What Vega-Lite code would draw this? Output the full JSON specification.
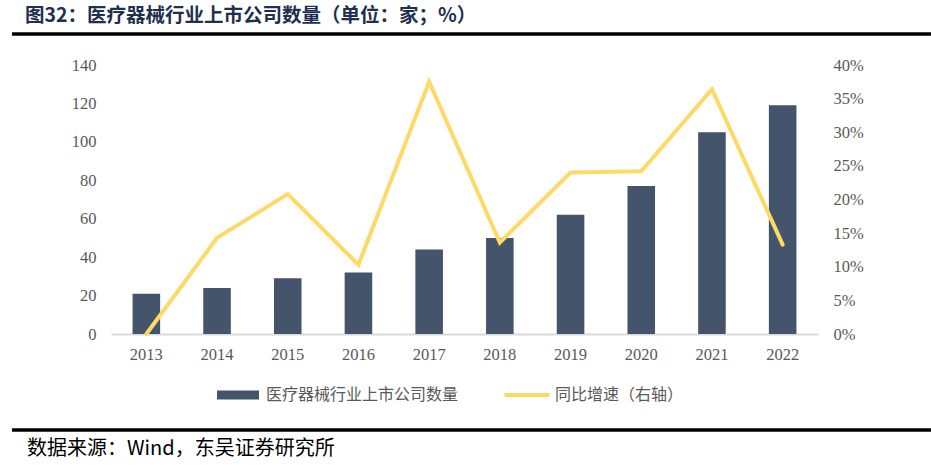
{
  "$schema": "https://vega.github.io/schema/vega-lite/v6.json",
  "width": 707,
  "height": 269,
  "autosize": {"type": "none"},
  "padding": {"left": 111, "top": 65, "right": 113, "bottom": 131},
  "background": "white",
  "config": {"view": {"stroke": null}, "font": "Liberation Serif"},
  "data": {
    "values": [
      {"year": "2013", "count": 21, "growth": 0.0},
      {"year": "2014", "count": 24, "growth": 0.143},
      {"year": "2015", "count": 29, "growth": 0.208},
      {"year": "2016", "count": 32, "growth": 0.103},
      {"year": "2017", "count": 44, "growth": 0.375},
      {"year": "2018", "count": 50, "growth": 0.136},
      {"year": "2019", "count": 62, "growth": 0.24},
      {"year": "2020", "count": 77, "growth": 0.242},
      {"year": "2021", "count": 105, "growth": 0.364},
      {"year": "2022", "count": 119, "growth": 0.133}
    ]
  },
  "layer": [
    {
      "layer": [
        {
          "mark": {"type": "bar"},
          "encoding": {
            "x": {
              "field": "year",
              "type": "ordinal",
              "scale": {"paddingInner": 0.61, "paddingOuter": 0.305},
              "axis": {
                "title": null,
                "labelAngle": 0,
                "ticks": false,
                "grid": false,
                "domain": true,
                "domainColor": "#D9D9D9",
                "domainWidth": 2,
                "labelFont": "Liberation Serif",
                "labelFontSize": 16.5,
                "labelColor": "#595959",
                "labelPadding": 12
              }
            },
            "y": {
              "field": "count",
              "type": "quantitative",
              "scale": {"domain": [0, 140], "nice": false},
              "axis": {
                "title": null,
                "values": [0, 20, 40, 60, 80, 100, 120, 140],
                "domain": false,
                "ticks": false,
                "grid": false,
                "labelFont": "Liberation Serif",
                "labelFontSize": 16.5,
                "labelColor": "#595959",
                "labelPadding": 15
              }
            },
            "color": {
              "datum": "医疗器械行业上市公司数量",
              "type": "nominal",
              "scale": {
                "domain": ["医疗器械行业上市公司数量", "同比增速（右轴）"],
                "range": ["#44546A", "#FFD966"]
              },
              "legend": {
                "orient": "none",
                "legendX": 106,
                "legendY": 309,
                "direction": "horizontal",
                "title": null,
                "padding": 0,
                "labelFont": "Noto Sans CJK SC",
                "labelFontSize": 16,
                "labelColor": "#595959",
                "labelOffset": 7,
                "labelLimit": 0,
                "columnPadding": 45,
                "symbolSize": 1764,
                "encode": {
                  "symbols": {
                    "update": {
                      "shape": [
                        {"test": "datum.value === '同比增速（右轴）'", "value": "M-1.07,-0.095H1.07V0.095H-1.07Z"},
                        {"value": "M-1,-0.214H1V0.214H-1Z"}
                      ],
                      "fill": {"scale": "color", "field": "value"},
                      "stroke": {"value": null},
                      "strokeWidth": {"value": 0},
                      "opacity": {"value": 1},
                      "fillOpacity": {"value": 1}
                    }
                  }
                }
              }
            }
          }
        },
        {
          "mark": {"type": "line", "strokeWidth": 4, "strokeCap": "round"},
          "encoding": {
            "x": {"field": "year", "type": "ordinal"},
            "y": {
              "field": "growth",
              "type": "quantitative",
              "scale": {"domain": [0, 0.4], "nice": false},
              "axis": {
                "orient": "right",
                "title": null,
                "format": ".0%",
                "values": [0, 0.05, 0.1, 0.15, 0.2, 0.25, 0.3, 0.35, 0.4],
                "domain": false,
                "ticks": false,
                "grid": false,
                "labelFont": "Liberation Serif",
                "labelFontSize": 16.5,
                "labelColor": "#595959",
                "labelPadding": 15
              }
            },
            "color": {"datum": "同比增速（右轴）", "type": "nominal"}
          }
        }
      ],
      "resolve": {"scale": {"y": "independent"}}
    },
    {
      "data": {"values": [{"header": "图32：医疗器械行业上市公司数量（单位：家；%）", "footer": "数据来源：Wind，东吴证券研究所"}]},
      "layer": [
        {
          "mark": {"type": "rule", "color": "black", "strokeWidth": 3.5},
          "encoding": {
            "x": {"datum": -0.14, "type": "quantitative", "scale": {"domain": [0, 1], "nice": false, "zero": false}, "axis": null},
            "x2": {"datum": 1.1598},
            "y": {"datum": 1.1152, "type": "quantitative", "scale": {"domain": [0, 1], "nice": false, "zero": false}, "axis": null}
          }
        },
        {
          "mark": {"type": "rule", "color": "black", "strokeWidth": 3.5},
          "encoding": {
            "x": {"datum": -0.14, "type": "quantitative"},
            "x2": {"datum": 1.1598},
            "y": {"datum": -0.3569, "type": "quantitative"}
          }
        },
        {
          "mark": {"type": "text", "align": "left", "baseline": "middle", "font": "Noto Sans CJK SC", "fontWeight": "bold", "fontSize": 19.5, "color": "#1F2F4F"},
          "encoding": {
            "x": {"datum": -0.1216, "type": "quantitative"},
            "y": {"datum": 1.1822, "type": "quantitative"},
            "text": {"field": "header"}
          }
        },
        {
          "mark": {"type": "text", "align": "left", "baseline": "middle", "font": "Noto Sans CJK SC", "fontSize": 20, "color": "black"},
          "encoding": {
            "x": {"datum": -0.1188, "type": "quantitative"},
            "y": {"datum": -0.4275, "type": "quantitative"},
            "text": {"field": "footer"}
          }
        }
      ]
    }
  ],
  "resolve": {"scale": {"x": "independent", "y": "independent"}}
}
